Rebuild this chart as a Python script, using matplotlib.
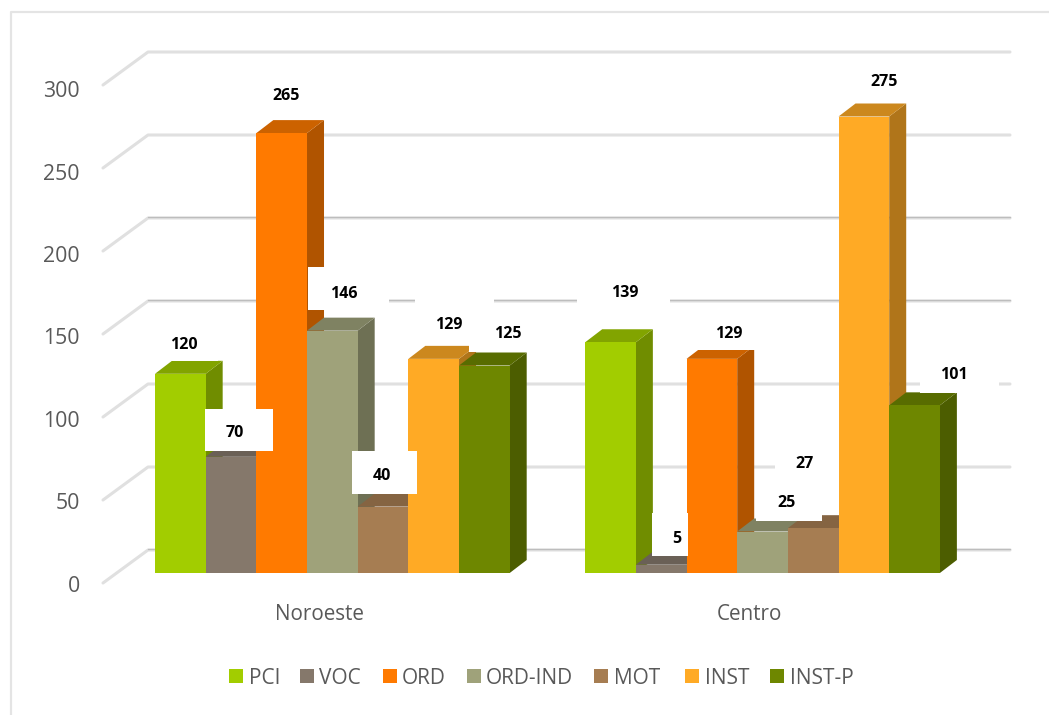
import matplotlib
matplotlib.use("Agg")
import matplotlib.pyplot as plt
from matplotlib.colors import to_rgb
from matplotlib.patches import Polygon, Rectangle
from matplotlib.transforms import Affine2D

# Data
groups = ["Noroeste", "Centro"]
series = ["PCI", "VOC", "ORD", "ORD-IND", "MOT", "INST", "INST-P"]
noroeste = [120, 70, 265, 146, 40, 129, 125]
centro = [139, 5, 129, 25, 27, 275, 101]
values = [noroeste, centro]
y_ticks = [0, 50, 100, 150, 200, 250, 300]
colors = ["#A2CD00", "#85786B", "#FF7A00", "#9FA27A", "#A67D52", "#FFAA25", "#6E8700"]

# Layout
W, H = 1049, 715
px_per_unit = 1.66
bar_w_px = 50.67
base_px, left_px = 573, 155
group_start = [0, 8.49]
dx = 17 / bar_w_px
dy = 13 / px_per_unit
wall_back = (573 - 550) / px_per_unit
wall_front = (573 - 583) / px_per_unit
wall_left = (103 - left_px) / bar_w_px
wall_mid = (148 - left_px) / bar_w_px
wall_right = (1010 - left_px) / bar_w_px

plt.rcParams["font.family"] = ["Open Sans", "DejaVu Sans"]
fig = plt.figure(figsize=(W / 100, H / 100), dpi=100)
ax = fig.add_axes([0, 0, 1, 1])
ax.set_xlim(-left_px / bar_w_px, (W - left_px) / bar_w_px)
ax.set_ylim((base_px - H) / px_per_unit, base_px / px_per_unit)
ax.axis("off")

# pixel coordinates with origin at the top left, for frame and label boxes
px = Affine2D().scale(1, -1).translate(0, H)


def shade(color, k):
    r, g, b = to_rgb(color)
    return (r * k, g * k, b * k)


# Outer frame
ax.plot([10.5, 10.5, W], [H, 11.5, 11.5], color="#E4E4E4", lw=1.6, transform=px,
        clip_on=False, solid_capstyle="butt")

# Gridlines on the back wall and the left wall
for t in y_ticks:
    xs = [wall_left, wall_mid, wall_right]
    ys = [t + wall_front, t + wall_back, t + wall_back]
    ax.plot(xs, ys, color="#E0E0E0", lw=2.2, solid_capstyle="round", zorder=1)
    if t in (0, 150, 200):
        ax.plot(xs[1:], [ys[1] + 0.4, ys[2] + 0.4], color="#BDBDBD", lw=0.9, zorder=1.1)
    ax.text(80, 586 - 1.647 * t, str(t), ha="right", va="center", fontsize=15.3,
            color="#595959", transform=px)

# Bars, painted from left to right so that each one hides the side of the last
z = 2
for g, group_vals in enumerate(values):
    for i, v in enumerate(group_vals):
        x0 = group_start[g] + i
        x1 = x0 + 1
        c = colors[i]
        side = [(x1, 0), (x1 + dx, dy), (x1 + dx, v + dy), (x1, v)]
        top = [(x0, v), (x0 + dx, v + dy), (x1 + dx, v + dy), (x1, v)]
        ax.add_patch(Polygon(side, fc=shade(c, 0.69), ec="none", zorder=z))
        ax.add_patch(Polygon(top, fc=shade(c, 0.8), ec="none", zorder=z))
        ax.add_patch(Rectangle((x0, 0), 1, v, fc=c, ec="none", zorder=z + 0.1))
        z += 1

# Data labels: white box (left, top, right, bottom in pixels), then text centre
label_boxes = [
    [(150, 322, 218, 361), (205, 409, 273, 451), (246, 73, 326, 115), (308, 267, 389, 310),
     (351.5, 451, 416.5, 493.5), (415, 298, 494, 344), (469, 311, 547, 352)],
    [(577, 270, 670, 313), (652, 513, 688, 556), (690, 309, 768, 350), (756, 479, 822, 521),
     (775, 440, 839, 482), (845, 59, 923, 101), (920, 352, 999, 393)],
]
label_centres = [
    [(184, 345), (235, 433), (286, 96), (344, 294), (382, 476), (449, 325), (508, 334)],
    [(625, 293), (677, 539), (729, 334), (787, 503), (805, 464), (884, 82), (954, 375)],
]
for g, group_vals in enumerate(values):
    for i, v in enumerate(group_vals):
        l, t, r, b = label_boxes[g][i]
        ax.add_patch(Rectangle((l, t), r - l, b - t, fc="white", ec="none",
                               transform=px, zorder=50))
        cx, cy = label_centres[g][i]
        ax.text(cx, cy, str(v), ha="center", va="center", fontsize=11.5, fontweight="bold",
                color="black", transform=px, zorder=51)

# Category labels
for name, cx in zip(groups, [319, 749]):
    ax.text(cx, 615, name, ha="center", va="center", fontsize=14.9, color="#595959",
            transform=px)

# Legend
legend_x = [229, 300, 383, 467, 594, 685, 770]
text_x = [249, 319, 402, 486, 614, 705, 790]
for name, c, lx, tx in zip(series, colors, legend_x, text_x):
    ax.add_patch(Rectangle((lx, 669), 14, 14, fc=c, ec="none", transform=px))
    ax.text(tx, 678, name, ha="left", va="center", fontsize=15, color="#595959",
            transform=px)

fig.savefig("out.png", dpi=100, facecolor="white")
